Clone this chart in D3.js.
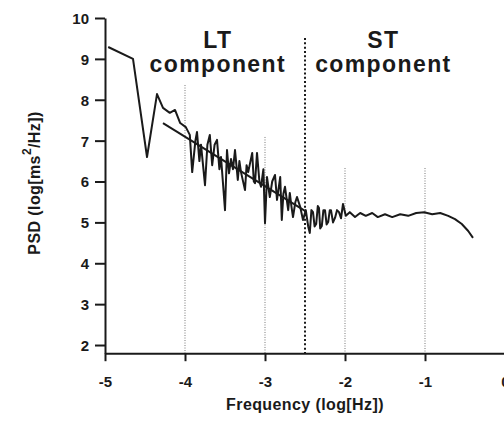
<!DOCTYPE html>
<html>
<head>
<meta charset="utf-8">
<script src="https://cdn.jsdelivr.net/npm/d3@7"></script>
<style>
  html, body { margin: 0; padding: 0; background: #fff; }
  svg { display: block; font-family: "Liberation Sans", Arial, Helvetica, sans-serif; }
</style>
</head>
<body>
<svg id="chart" width="504" height="437"></svg>
<script>
// ---- data (log10 frequency in Hz, log PSD) ----
const psdFreq = [-4.96,-4.65,-4.475,-4.35,-4.275,-4.19,-4.125,-4.06,-3.99,
  -3.94,-3.91,-3.87,-3.85,-3.82,-3.80,-3.75,-3.72,-3.69,-3.66,-3.63,-3.60,-3.57,-3.55,-3.50,-3.475,-3.45,-3.425,-3.40,-3.375,-3.34,-3.32,-3.30,-3.25,-3.23,-3.21,-3.16,-3.14,-3.125,-3.10,-3.07,-3.05,-3.02,-3.00,
  -2.975,-2.94,-2.91,-2.875,-2.85,-2.81,-2.79,-2.77,-2.75,-2.71,-2.69,-2.67,-2.65,-2.62,-2.60,-2.56,-2.525,-2.49,-2.46,-2.44,-2.42,-2.40,-2.38,-2.36,-2.34,-2.325,-2.31,-2.29,-2.27,-2.25,-2.23,-2.21,-2.19,-2.175,-2.15,-2.125,-2.10,-2.075,-2.05,-2.025,
  -1.99,-1.94,-1.875,-1.81,-1.74,-1.66,-1.59,-1.50,-1.41,-1.31,-1.21,-1.11,-1.01,-0.91,-0.81,-0.71,-0.625,-0.54,-0.46,-0.40];
const psdValue = [9.29,9.00,6.60,8.14,7.80,7.68,7.75,7.43,7.33,
  7.14,6.23,7.00,7.21,6.50,6.90,5.91,6.90,7.14,6.40,6.90,7.02,6.30,6.60,5.30,6.77,6.20,6.55,6.30,6.77,6.04,6.50,6.23,5.79,6.40,6.23,6.70,6.00,5.96,6.70,6.00,5.87,6.30,4.98,
  6.11,5.62,6.00,6.16,5.55,6.11,5.06,5.70,5.87,5.30,5.72,5.40,5.13,5.50,5.62,5.38,5.06,5.30,4.90,4.74,5.30,5.25,4.90,4.96,5.40,5.35,4.85,4.91,5.30,5.30,4.95,5.01,5.30,5.30,5.00,5.11,5.30,5.25,5.10,5.45,
  5.16,5.25,5.13,5.23,5.16,5.23,5.13,5.20,5.13,5.20,5.16,5.23,5.25,5.20,5.23,5.16,5.08,4.96,4.79,4.62];
const fitFreq = [-4.275, -2.5];
const fitValue = [7.43, 5.28];
const guideFreq = [-4, -3, -2, -1];
const guideTop = [8.36, 7.09, 6.33, 6.33];
const splitFreq = -2.5;
const splitTop = 9.51;
const xTicks = [-5, -4, -3, -2, -1, 0];
const yTicks = [2, 3, 4, 5, 6, 7, 8, 9, 10];
const regionLabels = [["LT", "component"], ["ST", "component"]];
const regionCenters = [-3.59, -1.52];

// ---- layout ----
const svg = d3.select("#chart");
const x = d3.scaleLinear().domain([-5, 0]).range([105, 505]);
const y = d3.scaleLinear().domain([1.8, 10]).range([353.2, 18]);
const ink = "#1a1a1a";

// guide lines
svg.append("g").selectAll("line").data(guideFreq).join("line")
  .attr("x1", d => x(d)).attr("x2", d => x(d))
  .attr("y1", (d, i) => y(guideTop[i])).attr("y2", y(1.8))
  .attr("stroke", "#777").attr("stroke-width", 1).attr("stroke-dasharray", "1,1.5");

svg.append("line")
  .attr("x1", x(splitFreq)).attr("x2", x(splitFreq))
  .attr("y1", y(splitTop)).attr("y2", y(1.8))
  .attr("stroke", ink).attr("stroke-width", 2).attr("stroke-dasharray", "2,2.3");

// axes
const fmt = d => String(d);
const xAxis = svg.append("g").attr("transform", `translate(0,${y(1.8)})`)
  .call(d3.axisBottom(x).tickValues(xTicks).tickSize(8).tickSizeOuter(0).tickFormat(fmt));
const yAxis = svg.append("g").attr("transform", `translate(${x(-5)},0)`)
  .call(d3.axisLeft(y).tickValues(yTicks).tickSize(10).tickSizeOuter(0).tickFormat(fmt));
[xAxis, yAxis].forEach(g => {
  g.attr("font-family", null).attr("font-size", null);
  g.select(".domain").attr("stroke", ink).attr("stroke-width", 2);
  g.selectAll(".tick line").attr("stroke", ink).attr("stroke-width", 2);
  g.selectAll(".tick text").attr("fill", ink).attr("font-size", 15).attr("font-weight", "bold")
    .attr("font-family", "'Liberation Sans', Arial, sans-serif");
});
xAxis.selectAll(".tick text").attr("dy", null).attr("y", 34);
yAxis.selectAll(".tick text").attr("x", -16).attr("dy", "0.36em");

// data line
const pts = psdFreq.map((f, i) => [f, psdValue[i]]);
const line = d3.line().x(d => x(d[0])).y(d => y(d[1]));
svg.append("path").datum(pts).attr("d", line)
  .attr("fill", "none").attr("stroke", ink).attr("stroke-width", 2).attr("stroke-linejoin", "round");

// fit line
svg.append("path").datum(fitFreq.map((f, i) => [f, fitValue[i]])).attr("d", line)
  .attr("fill", "none").attr("stroke", ink).attr("stroke-width", 2);

// region labels
regionLabels.forEach((lab, i) => {
  const t = svg.append("text").attr("text-anchor", "middle").attr("fill", ink)
    .attr("font-size", 23).attr("font-weight", "bold").attr("letter-spacing", 1.4);
  t.append("tspan").attr("x", x(regionCenters[i])).attr("y", 48).text(lab[0]);
  t.append("tspan").attr("x", x(regionCenters[i])).attr("y", 72).text(lab[1]);
});

// axis titles
svg.append("text").attr("x", 305).attr("y", 410).attr("text-anchor", "middle")
  .attr("fill", ink).attr("font-size", 16).attr("font-weight", "bold").attr("letter-spacing", 0.4)
  .text("Frequency (log[Hz])");

const yt = svg.append("text").attr("transform", "translate(40,183) rotate(-90)")
  .attr("text-anchor", "middle").attr("fill", ink).attr("font-size", 16).attr("font-weight", "bold")
  .attr("letter-spacing", 0.4);
yt.append("tspan").text("PSD (log[ms");
yt.append("tspan").attr("font-size", 12).attr("dy", -9).text("2");
yt.append("tspan").attr("dy", 9).text("/Hz])");
</script>
</body>
</html>
